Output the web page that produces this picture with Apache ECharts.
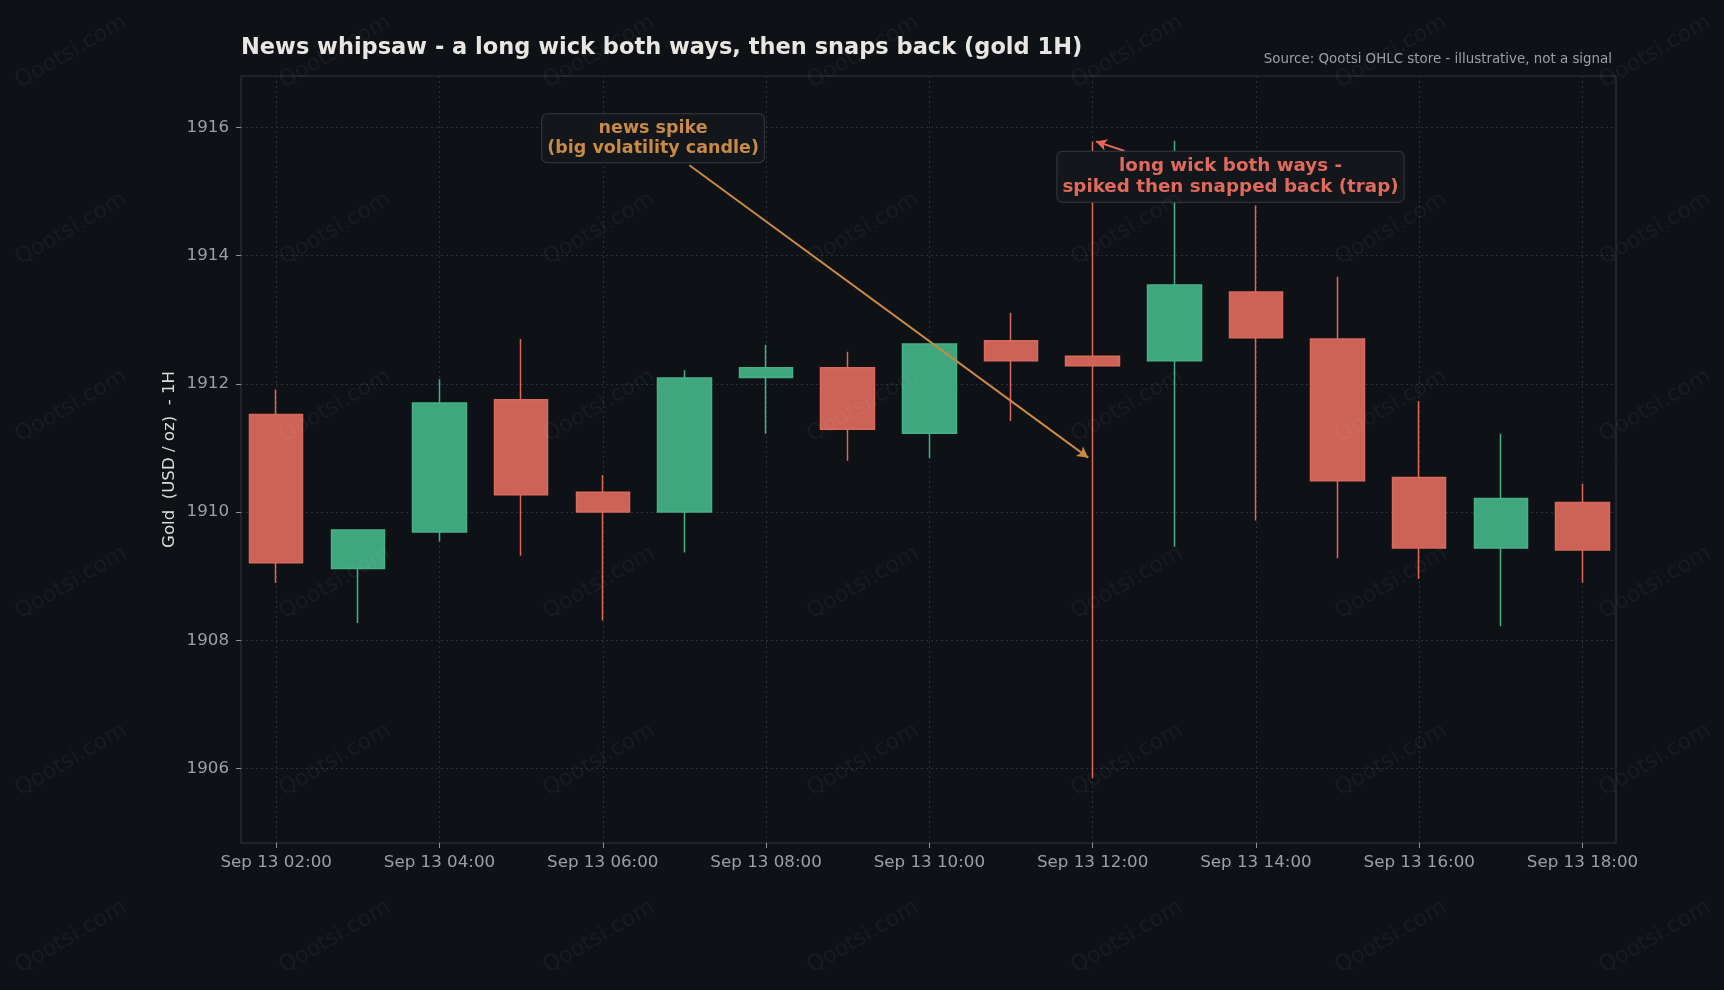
<!DOCTYPE html>
<html><head><meta charset="utf-8">
<script src="https://cdn.jsdelivr.net/npm/echarts@6/dist/echarts.min.js"></script>
<style>html,body{margin:0;padding:0;background:#0e1116}#c{width:1724px;height:990px}</style>
</head><body><div id="c"></div>
<script>
// ---- data ----
const dayLabel = 'Sep 13';
const times  = ['02:00','03:00','04:00','05:00','06:00','07:00','08:00','09:00','10:00','11:00','12:00','13:00','14:00','15:00','16:00','17:00','18:00'];
const hours  = [2,3,4,5,6,7,8,9,10,11,12,13,14,15,16,17,18];
const opens  = [1911.52,1909.12,1909.69,1911.75,1910.31,1910.00,1912.10,1912.25,1911.23,1912.67,1912.43,1912.36,1913.43,1912.70,1910.54,1909.44,1910.15];
const closes = [1909.21,1909.72,1911.70,1910.27,1910.00,1912.09,1912.25,1911.29,1912.62,1912.36,1912.28,1913.54,1912.72,1910.49,1909.44,1910.21,1909.41];
const lows   = [1908.90,1908.27,1909.54,1909.32,1908.31,1909.37,1911.22,1910.80,1910.84,1911.42,1905.85,1909.46,1909.87,1909.28,1908.96,1908.22,1908.90];
const highs  = [1911.91,1909.73,1912.07,1912.70,1910.58,1912.21,1912.61,1912.50,1912.63,1913.11,1915.78,1915.79,1914.78,1913.67,1911.73,1911.22,1910.44];
const yTickValues = [1906,1908,1910,1912,1914,1916];

const titleText  = 'News whipsaw - a long wick both ways, then snaps back (gold 1H)';
const sourceText = 'Source: Qootsi OHLC store - illustrative, not a signal';
const yName      = 'Gold  (USD / oz)  - 1H';
const note1Text  = 'news spike\n(big volatility candle)';
const note2Text  = 'long wick both ways -\nspiked then snapped back (trap)';

// ---- build ----
const candles = hours.map((h, i) => [h, opens[i], closes[i], lows[i], highs[i]]);
const spikeIdx = 10; // 12:00 candle
const UP = '#3fa67e', UP_EDGE = '#45b286', DN = '#cd6357', DN_EDGE = '#db6a5c';
const ORANGE = '#c98a45', REDTXT = '#e06a5b';

const boxLabel = (txt, color, size, lh) => ({
  show: true, position: 'inside', formatter: txt, color: color,
  fontFamily: 'DejaVu Sans', fontWeight: 'bold', fontSize: size, lineHeight: lh,
  align: 'center', verticalAlign: 'middle',
  backgroundColor: '#13161a', borderColor: '#373b41', borderWidth: 1, borderRadius: 5,
  padding: [5, 5, 4, 5]
});

// watermark
const wm = [];
for (let r = 0; r < 6; r++) {
  for (let c = 0; c < 7; c++) {
    wm.push({
      type: 'text', x: 71 + c * 264, y: 52 + r * 177, rotation: Math.PI / 6, silent: true, z: 100,
      style: { text: 'Qootsi.com', fill: 'rgba(255,255,255,0.045)', font: '22px "DejaVu Sans"', align: 'center', verticalAlign: 'middle' }
    });
  }
}

const chart = echarts.init(document.getElementById('c'), null, { renderer: 'canvas' });
chart.setOption({
  backgroundColor: '#0e1116',
  animation: false,
  title: [
    { text: titleText, left: 241, top: 37, padding: 0,
      textStyle: { color: '#e8e6e3', fontFamily: 'DejaVu Sans', fontWeight: 'bold', fontSize: 22.5 } },
    { text: sourceText, right: 112, top: 53, padding: 0,
      textStyle: { color: '#9aa0a6', fontFamily: 'DejaVu Sans', fontWeight: 'normal', fontSize: 13.4 } }
  ],
  grid: { left: 241, right: 108, top: 76, bottom: 147, show: true, backgroundColor: '#0e1116', borderColor: '#33373d', borderWidth: 1 },
  xAxis: {
    type: 'value', min: 1.569, max: 18.41, minInterval: 2, maxInterval: 2, splitNumber: 8,
    axisLine: { show: false },
    axisTick: { show: true, length: 5, lineStyle: { color: '#8f959c' } },
    axisLabel: { color: '#9aa0a6', fontFamily: 'DejaVu Sans', fontSize: 16.7, margin: 11, showMinLabel: false, showMaxLabel: false,
      formatter: v => { const i = hours.indexOf(v); return i >= 0 ? dayLabel + ' ' + times[i] : ''; } },
    splitLine: { show: true, showMinLine: false, showMaxLine: false, lineStyle: { color: '#2b2f36', type: [2, 3], width: 1 } }
  },
  yAxis: {
    type: 'value', min: 1904.84, max: 1916.80, minInterval: 2, maxInterval: 2, splitNumber: 6,
    name: yName, nameLocation: 'middle', nameGap: 63, nameRotate: 90, nameMoveOverlap: false,
    nameTextStyle: { color: '#dcdcdc', fontFamily: 'DejaVu Sans', fontSize: 16.6 },
    axisLine: { show: false },
    axisTick: { show: true, length: 5, lineStyle: { color: '#8f959c' } },
    axisLabel: { color: '#9aa0a6', fontFamily: 'DejaVu Sans', fontSize: 16.7, margin: 12, showMinLabel: false, showMaxLabel: false,
      formatter: v => yTickValues.indexOf(v) >= 0 ? String(v) : '' },
    splitLine: { show: true, showMinLine: false, showMaxLine: false, lineStyle: { color: '#2b2f36', type: [2, 3], width: 1 } }
  },
  graphic: wm,
  series: [{
    type: 'candlestick',
    data: candles,
    encode: { x: 0, y: [1, 2, 3, 4] },
    barWidth: 54,
    itemStyle: { color: UP, color0: DN, borderColor: UP_EDGE, borderColor0: DN_EDGE, borderWidth: 1.5 },
    markPoint: {
      silent: true, symbol: 'rect', symbolSize: 0, animation: false,
      data: [
        { coord: [6.616, 1915.83], label: boxLabel(note1Text, ORANGE, 17.5, 19.5) },
        { coord: [13.689, 1915.23], label: boxLabel(note2Text, REDTXT, 18.3, 20.5) }
      ]
    },
    markLine: {
      silent: true, animation: false, symbol: ['none', 'arrow'], symbolSize: [9, 11], label: { show: false },
      data: [
        [ { coord: [7.061, 1915.408], lineStyle: { color: ORANGE, width: 2, type: 'solid' } },
          { coord: [hours[spikeIdx] - 0.054, 1910.849], lineStyle: { color: ORANGE, width: 2, type: 'solid' } } ],
        [ { coord: [12.391, 1915.630], lineStyle: { color: '#e8675a', width: 2, type: 'solid' } },
          { coord: [hours[spikeIdx] + 0.04, highs[spikeIdx]], lineStyle: { color: '#e8675a', width: 2, type: 'solid' } } ]
      ]
    }
  }]
});
</script>
</body></html>
